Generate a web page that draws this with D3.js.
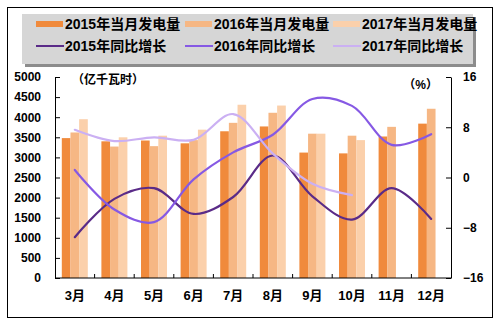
<!DOCTYPE html>
<html>
<head>
<meta charset="utf-8">
<script src="https://cdn.jsdelivr.net/npm/d3@7/dist/d3.min.js"></script>
<style>
  html, body { margin: 0; padding: 0; background: #fff; }
  svg text { font-family: "Liberation Sans", "Noto Sans CJK SC", sans-serif; font-weight: bold; }
</style>
</head>
<body>
<svg id="chart" width="501" height="325"></svg>
<script>
// Monthly generation (亿千瓦时) and year-on-year growth (%)
const months = ["3月", "4月", "5月", "6月", "7月", "8月", "9月", "10月", "11月", "12月"];
const gen2015 = [3480, 3400, 3420, 3350, 3650, 3770, 3120, 3100, 3520, 3840];
const gen2016 = [3620, 3270, 3280, 3430, 3860, 4110, 3590, 3540, 3760, 4210];
const gen2017 = [3950, 3500, 3540, 3690, 4310, 4290, 3590, 3430, null, null];
const yoy2015 = [-9.5, -3.4, -1.7, -5.8, -3.1, 3.5, -3.0, -6.7, -1.7, -6.6];
const yoy2016 = [1.2, -5.1, -7.1, -0.3, 4.0, 6.8, 12.5, 11.4, 5.2, 6.9];
const yoy2017 = [7.6, 5.8, 6.4, 6.0, 10.1, 3.8, -1.0, -2.8, null, null];
const leftTicks = [0, 500, 1000, 1500, 2000, 2500, 3000, 3500, 4000, 4500, 5000];
const rightTicks = [-16, -8, 0, 8, 16];

const barSeries = [
  { name: "2015年当月发电量", values: gen2015, color: "#F08A3C" },
  { name: "2016年当月发电量", values: gen2016, color: "#F6B784" },
  { name: "2017年当月发电量", values: gen2017, color: "#FBD0AB" }
];
const lineSeries = [
  { name: "2015年同比增长", values: yoy2015, color: "#5A2B88" },
  { name: "2016年同比增长", values: yoy2016, color: "#8659E4" },
  { name: "2017年同比增长", values: yoy2017, color: "#CBB0F3" }
];

const svg = d3.select("#chart");
const plotLeft = 55, plotRight = 451, plotTop = 77, plotBottom = 278;

// outer frame
svg.append("rect").attr("x", 7.5).attr("y", 7.5).attr("width", 485).attr("height", 310)
  .attr("fill", "#fff").attr("stroke", "#000").attr("stroke-width", 1);

// legend panel with drop shadow
svg.append("rect").attr("x", 25).attr("y", 17).attr("width", 451).attr("height", 50).attr("fill", "#8C8C8C");
svg.append("rect").attr("x", 22).attr("y", 14).attr("width", 451).attr("height", 50).attr("fill", "#D6D6D6");

const legendCols = [36, 185, 333];
barSeries.forEach((s, i) => {
  const g = svg.append("g").attr("transform", `translate(${legendCols[i]},24)`);
  g.append("rect").attr("x", 0).attr("y", -3).attr("width", 27).attr("height", 6).attr("fill", s.color);
  g.append("text").attr("x", 29).attr("y", 5).attr("font-size", 14).attr("fill", "#000").text(s.name);
});
lineSeries.forEach((s, i) => {
  const g = svg.append("g").attr("transform", `translate(${legendCols[i]},46)`);
  g.append("line").attr("x1", 0).attr("x2", 28).attr("y1", 0).attr("y2", 0)
    .attr("stroke", s.color).attr("stroke-width", 2);
  g.append("text").attr("x", 29).attr("y", 5).attr("font-size", 14).attr("fill", "#000").text(s.name);
});

// scales
const x0 = d3.scaleBand().domain(months).range([plotLeft, plotRight]).padding(0);
const x1 = d3.scaleBand().domain([0, 1, 2]).range([6.8, 32.8]).padding(0);
const yL = d3.scaleLinear().domain([0, 5000]).range([plotBottom, plotTop]);
const yR = d3.scaleLinear().domain([-16, 16]).range([plotBottom, plotTop]);

// bars
barSeries.forEach((s, si) => {
  svg.append("g").selectAll("rect")
    .data(months.map((m, i) => ({ m, v: s.values[i] })).filter(d => d.v != null))
    .join("rect")
    .attr("x", d => x0(d.m) + x1(si))
    .attr("width", x1.bandwidth())
    .attr("y", d => yL(d.v))
    .attr("height", d => yL(0) - yL(d.v))
    .attr("fill", s.color);
});

// growth lines
const line = d3.line()
  .x(d => x0(d.m) + x0.bandwidth() / 2)
  .y(d => yR(d.v))
  .curve(d3.curveCatmullRom.alpha(0.5));
lineSeries.forEach(s => {
  svg.append("path")
    .datum(months.map((m, i) => ({ m, v: s.values[i] })).filter(d => d.v != null))
    .attr("d", line)
    .attr("fill", "none")
    .attr("stroke", s.color)
    .attr("stroke-width", 2.2)
    .attr("stroke-linecap", "round");
});

// left axis
const axL = svg.append("g").attr("transform", `translate(${plotLeft},0)`)
  .call(d3.axisLeft(yL).tickValues(leftTicks).tickFormat(d3.format("d"))
    .tickSizeInner(-5).tickSizeOuter(0).tickPadding(14));
axL.select(".domain").attr("stroke", "#000");
axL.selectAll("line").attr("stroke", "#000");
axL.selectAll("text").attr("font-size", 12).attr("fill", "#000")
  .attr("font-family", "Liberation Sans, sans-serif").attr("font-weight", "bold");

// right axis
const axR = svg.append("g").attr("transform", `translate(${plotRight},0)`)
  .call(d3.axisRight(yR).tickValues(rightTicks).tickFormat(d3.format("d"))
    .tickSizeInner(-5).tickSizeOuter(0).tickPadding(12));
axR.select(".domain").attr("stroke", "#000");
axR.selectAll("line").attr("stroke", "#000");
axR.selectAll("text").attr("font-size", 12).attr("fill", "#000")
  .attr("font-family", "Liberation Sans, sans-serif").attr("font-weight", "bold");

// bottom axis: ticks between categories
const axB = svg.append("g").attr("transform", `translate(0,${plotBottom})`);
axB.append("line").attr("x1", plotLeft).attr("x2", plotRight).attr("stroke", "#000");
axB.selectAll("line.tk").data(months.slice(1)).join("line").attr("class", "tk")
  .attr("x1", d => x0(d)).attr("x2", d => x0(d)).attr("y1", 0).attr("y2", -4).attr("stroke", "#000");
axB.selectAll("text").data(months).join("text")
  .attr("x", d => x0(d) + x0.bandwidth() / 2)
  .attr("y", 22)
  .attr("text-anchor", "middle")
  .attr("font-size", 13)
  .attr("fill", "#000")
  .text(d => d);

// unit labels
svg.append("text").attr("x", 72).attr("y", 84).attr("font-size", 12).attr("fill", "#000").text("（亿千瓦时）");
svg.append("text").attr("x", 438).attr("y", 89).attr("text-anchor", "end").attr("font-size", 12).attr("fill", "#000").text("（%）");
</script>
</body>
</html>
